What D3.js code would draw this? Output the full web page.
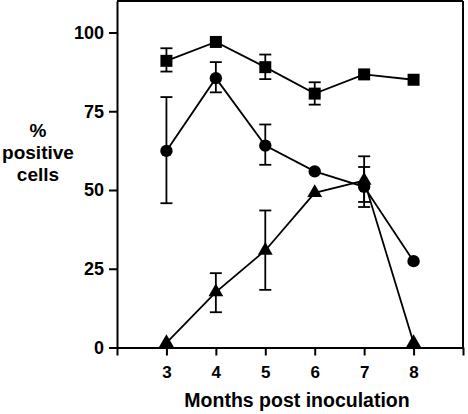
<!DOCTYPE html>
<html><head><meta charset="utf-8">
<script src="https://cdn.jsdelivr.net/npm/d3@7"></script>
<style>body{margin:0;background:#fff}text{font-family:"Liberation Sans",Arial,sans-serif;font-weight:bold}</style>
</head><body>
<svg id="c" width="468" height="414"></svg>
<script>
const months = [3,4,5,6,7,8];
const squareVals = [91,97,89,80.6,86.7,85];
const squareHi  = [95,null,93,84.2,null,null];
const squareLo  = [87.6,null,85.2,77.1,null,null];
const circleVals = [62.4,85.5,64.1,55.9,51,27.4];
const circleHi  = [79.5,90.6,70.8,null,57.3,null];
const circleLo  = [45.8,81,58,null,44.6,null];
const triVals = [1.5,17.6,30.8,49.1,53,1.5];
const triHi  = [null,23.6,43.5,null,60.7,null];
const triLo  = [null,11.2,18.3,null,46.2,null];
const yTicks = [0,25,50,75,100];
const xTicks = [3,4,5,6,7,8];

const svg = d3.select("#c");
const x = d3.scaleLinear().domain([2,9]).range([117,463]);
const y = d3.scaleLinear().domain([0,110]).range([347.5,1]);

// frame top & right
svg.append("line").attr("x1",x(2)).attr("x2",x(9)).attr("y1",y(110)).attr("y2",y(110)).attr("stroke","#000").attr("stroke-width",2);
svg.append("line").attr("x1",x(9)).attr("x2",x(9)).attr("y1",y(110)).attr("y2",y(0)).attr("stroke","#000").attr("stroke-width",2);

// axes
const yAx = svg.append("g").attr("transform",`translate(${x(2)},0)`)
  .call(d3.axisLeft(y).tickValues(yTicks).tickSize(8).tickPadding(5).tickSizeOuter(0));
const xAx = svg.append("g").attr("transform",`translate(0,${y(0)})`)
  .call(d3.axisBottom(x).tickValues([2,3,4,5,6,7,8,9]).tickSize(8).tickPadding(10).tickSizeOuter(0)
  .tickFormat(d => xTicks.includes(d) ? d : ""));
[yAx,xAx].forEach(g=>{
  g.selectAll("path,line").attr("stroke","#000").attr("stroke-width",2);
  g.selectAll("text").attr("fill","#000").style("font-weight","bold").style("font-family","'Liberation Sans',Arial,sans-serif");
});
yAx.selectAll("text").style("font-size","18px");
xAx.selectAll("text").style("font-size","17px");

function series(vals, hi, lo, shape){
  const g = svg.append("g");
  const pts = months.map((m,i)=>[m, vals[i]]);
  g.append("path").attr("d", d3.line().x(d=>x(d[0])).y(d=>y(d[1]))(pts))
    .attr("fill","none").attr("stroke","#000").attr("stroke-width",1.8);
  months.forEach((m,i)=>{
    const cx = x(m);
    if(hi[i]!=null){
      g.append("line").attr("x1",cx).attr("x2",cx).attr("y1",y(hi[i])).attr("y2",y(lo[i])).attr("stroke","#000").attr("stroke-width",1.8);
      [hi[i],lo[i]].forEach(v=>g.append("line").attr("x1",cx-6).attr("x2",cx+6).attr("y1",y(v)).attr("y2",y(v)).attr("stroke","#000").attr("stroke-width",1.8));
    }
  });
  g.selectAll("path.m").data(pts).join("path").attr("class","m")
    .attr("transform",d=>`translate(${x(d[0])},${y(d[1])})`)
    .attr("d", d3.symbol().type(shape).size(shape===d3.symbolSquare?144:(shape===d3.symbolCircle?120:95)))
    .attr("fill","#000");
}
series(squareVals, squareHi, squareLo, d3.symbolSquare);
series(circleVals, circleHi, circleLo, d3.symbolCircle);
series(triVals, triHi, triLo, d3.symbolTriangle);

// labels
const yl = svg.append("text").attr("text-anchor","middle").style("font-size","19px").attr("fill","#000");
[["%",137],["positive",159],["cells",181]].forEach(([t,yy])=>yl.append("tspan").attr("x",38).attr("y",yy).text(t));
svg.append("text").attr("x",297).attr("y",407).attr("text-anchor","middle").style("font-size","19.5px").attr("fill","#000").text("Months post inoculation");
</script>
</body></html>
